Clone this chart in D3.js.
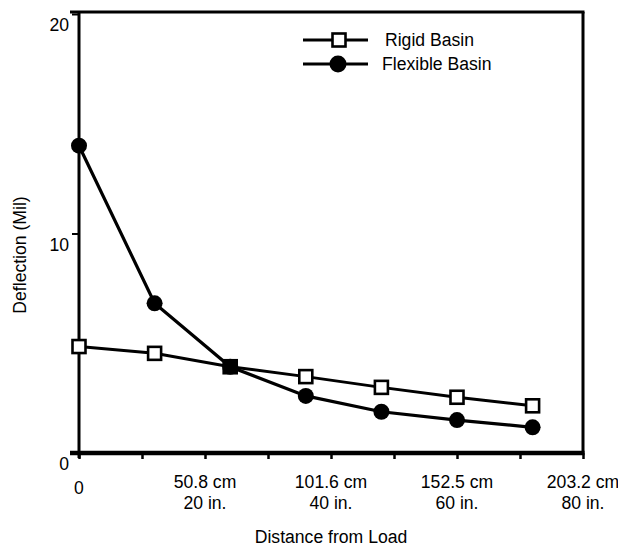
<!DOCTYPE html>
<html>
<head>
<meta charset="utf-8">
<script src="https://cdn.jsdelivr.net/npm/d3@7"></script>
<style>
  html, body { margin: 0; padding: 0; background: #fff; }
  svg { display: block; font-family: "Liberation Sans", Arial, Helvetica, sans-serif; }
</style>
</head>
<body>
<svg id="chart" width="618" height="548"></svg>
<script>
// ---- data ----
const distances = [0, 12, 24, 36, 48, 60, 72];               // inches from load
const rigidBasin = [4.85, 4.54, 3.93, 3.48, 2.99, 2.54, 2.15]; // deflection (mil)
const flexibleBasin = [14.0, 6.82, 3.93, 2.6, 1.88, 1.5, 1.17];
const seriesNames = ["Rigid Basin", "Flexible Basin"];
const yTicks = [0, 10, 20];
const xMinorTicks = [0, 10, 20, 30, 40, 50, 60, 70, 80];
const xLabelValues = [0, 20, 40, 60, 80];
const xLabelCm = ["", "50.8 cm", "101.6 cm", "152.5 cm", "203.2 cm"];
const xLabelIn = ["0", "20 in.", "40 in.", "60 in.", "80 in."];
const xTitle = "Distance from Load";
const yTitle = "Deflection (Mil)";

// ---- layout ----
const svg = d3.select("#chart");
const pLeft = 79, pRight = 583, pTop = 14, pBottom = 453, frameTop = 12;
const x = d3.scaleLinear().domain([0, 80]).range([pLeft, pRight]);
const y = d3.scaleLinear().domain([0, 20]).range([pBottom, pTop]);
const fs = 17.6;

// frame (top & right)
svg.append("line").attr("x1", 70).attr("x2", pRight + 1.5).attr("y1", frameTop).attr("y2", frameTop)
  .attr("stroke", "#000").attr("stroke-width", 3);
svg.append("line").attr("x1", pRight).attr("x2", pRight).attr("y1", frameTop).attr("y2", pBottom)
  .attr("stroke", "#000").attr("stroke-width", 3);

// y axis
const yAxis = d3.axisLeft(y).tickValues(yTicks).tickSize(7).tickFormat(d3.format("d"));
const gy = svg.append("g").attr("transform", `translate(${pLeft},0)`).call(yAxis);
gy.select(".domain").remove();
gy.selectAll(".tick line").attr("stroke", "#000").attr("stroke-width", 2);
gy.selectAll(".tick text").attr("font-size", fs).attr("fill", "#000")
  .attr("x", -10).attr("dy", "0.95em");
svg.append("line").attr("x1", pLeft).attr("x2", pLeft).attr("y1", frameTop).attr("y2", pBottom + 5)
  .attr("stroke", "#000").attr("stroke-width", 3);

// x axis
const xAxis = d3.axisBottom(x).tickValues(xMinorTicks).tickSize(6).tickFormat("");
const gx = svg.append("g").attr("transform", `translate(0,${pBottom})`).call(xAxis);
gx.select(".domain").remove();
gx.selectAll(".tick line").attr("stroke", "#000").attr("stroke-width", 2.5);
svg.append("line").attr("x1", 70).attr("x2", pRight + 1.5).attr("y1", pBottom).attr("y2", pBottom)
  .attr("stroke", "#000").attr("stroke-width", 4.5);

// x tick labels (two lines)
const xl = svg.append("g").attr("font-size", fs).attr("fill", "#000").attr("text-anchor", "middle");
xLabelValues.forEach((v, i) => {
  const t = xl.append("text").attr("x", x(v)).attr("y", 488);
  if (xLabelCm[i]) {
    t.append("tspan").attr("x", x(v)).text(xLabelCm[i]);
    t.append("tspan").attr("x", x(v)).attr("dy", 21).text(xLabelIn[i]);
  } else {
    t.attr("y", 494).text(xLabelIn[i]);
  }
});

// titles
svg.append("text").attr("x", 331).attr("y", 543).attr("text-anchor", "middle")
  .attr("font-size", fs).attr("fill", "#000").text(xTitle);
svg.append("text").attr("transform", "translate(26,255) rotate(-90)").attr("text-anchor", "middle")
  .attr("font-size", fs).attr("fill", "#000").text(yTitle);

// lines
const line = d3.line().x(d => x(d[0])).y(d => y(d[1]));
const rigidPts = distances.map((d, i) => [d, rigidBasin[i]]);
const flexPts = distances.map((d, i) => [d, flexibleBasin[i]]);
svg.append("path").datum(rigidPts).attr("d", line).attr("fill", "none")
  .attr("stroke", "#000").attr("stroke-width", 3);
svg.append("path").datum(flexPts).attr("d", line).attr("fill", "none")
  .attr("stroke", "#000").attr("stroke-width", 3.2);

// markers
const sq = 13;
svg.append("g").selectAll("circle").data(flexPts).join("circle")
  .attr("cx", d => x(d[0])).attr("cy", d => y(d[1])).attr("r", 8).attr("fill", "#000");
svg.append("g").selectAll("rect").data(rigidPts).join("rect")
  .attr("x", d => x(d[0]) - sq / 2).attr("y", d => y(d[1]) - sq / 2)
  .attr("width", sq).attr("height", sq)
  .attr("fill", (d, i) => Math.abs(d[1] - flexibleBasin[i]) < 0.1 ? "#000" : "#fff")
  .attr("stroke", "#000").attr("stroke-width", 2.6);

// legend
const lg = svg.append("g");
const legY = [40, 64];
lg.append("line").attr("x1", 303).attr("x2", 368).attr("y1", legY[0]).attr("y2", legY[0])
  .attr("stroke", "#000").attr("stroke-width", 3);
lg.append("rect").attr("x", 339 - sq / 2).attr("y", legY[0] - sq / 2).attr("width", sq).attr("height", sq)
  .attr("fill", "#fff").attr("stroke", "#000").attr("stroke-width", 2.6);
lg.append("line").attr("x1", 303).attr("x2", 368).attr("y1", legY[1]).attr("y2", legY[1])
  .attr("stroke", "#000").attr("stroke-width", 3);
lg.append("circle").attr("cx", 338).attr("cy", legY[1]).attr("r", 8.5).attr("fill", "#000");
lg.selectAll("text").data(seriesNames).join("text")
  .attr("x", (d, i) => i === 0 ? 385 : 382).attr("y", (d, i) => legY[i] + 6)
  .attr("font-size", fs).attr("fill", "#000").text(d => d);
</script>
</body>
</html>
